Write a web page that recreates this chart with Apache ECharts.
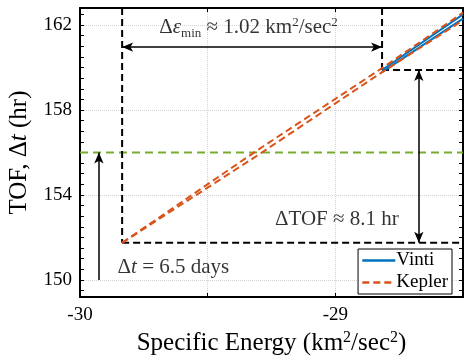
<!DOCTYPE html>
<html>
<head>
<meta charset="utf-8">
<script src="https://cdn.jsdelivr.net/npm/echarts@6/dist/echarts.min.js"></script>
<style>
html, body { margin: 0; padding: 0; background: #fff; }
#chart { width: 470px; height: 356px; }
</style>
</head>
<body>
<div id="chart"></div>
<script>
var chart = echarts.init(document.getElementById('chart'));

// values
var vintiA = [[-28.817, 159.88], [-28.5, 162.5]];
var vintiB = [[-28.817, 159.78], [-28.5, 162.3]];
var keplerA = [[-29.835, 151.75], [-29.3, 156.15], [-28.817, 159.97], [-28.5, 162.58]];
var keplerB = [[-29.835, 151.75], [-29.3, 155.9], [-28.817, 159.78], [-28.5, 162.22]];

var epsLow = -29.835, epsHigh = -28.817;   // delta eps min bounds
var tofLow = 151.75, tofHigh = 159.88;     // delta TOF bounds
var dtLevel = 156;                         // 6.5 days in hr
var epsArrowY = 160.96;
var tofArrowX = -28.673;
var dtArrowX = -29.926;
var dtArrowFrom = 150;

var xLabels = [-30, -29];
var yTicks = [149.5, 150, 150.5, 151, 151.5, 152, 152.5, 153, 153.5, 154, 154.5, 155, 155.5,
              156, 156.5, 157, 157.5, 158, 158.5, 159, 159.5, 160, 160.5, 161, 161.5, 162, 162.5];
var yLabels = [150, 154, 158, 162];

var xMin = -30, xMax = -28.5, yMin = 149.2, yMax = 162.8;

var textEps = [-29.34, 161.86];
var textTof = [-28.994, 152.86];
var textDt = [-29.634, 150.61];

var BLUE = '#0072BD', ORANGE = '#D95319', GREEN = '#77AC30';
var SERIF = 'Liberation Serif';

var dashBlack = {color: '#000', width: 2, type: [7, 4]};
var arrowStyle = {color: '#000', width: 1.5, type: 'solid'};

function seg(data, style) {
    return {
        type: 'line', data: data, symbol: 'none', silent: true,
        lineStyle: style, z: 4
    };
}

function makeRich(size, lh) {
    return {
        i: {fontFamily: SERIF, fontStyle: 'italic', fontSize: size, lineHeight: lh, color: '#000'},
        p: {fontFamily: SERIF, fontSize: Math.round(size * 0.62), verticalAlign: 'top', lineHeight: lh, color: '#000'},
        b: {fontFamily: SERIF, fontSize: Math.round(size * 0.62), verticalAlign: 'bottom', lineHeight: lh, color: '#000'}
    };
}

function textSeries(pos, text) {
    return {
        type: 'scatter', data: [pos], symbolSize: 1, silent: true, z: 6,
        itemStyle: {color: 'rgba(0,0,0,0)'},
        label: {
            show: true, position: 'inside', formatter: text,
            fontFamily: SERIF, fontSize: 21, lineHeight: 24, color: '#000',
            rich: makeRich(21, 24)
        }
    };
}

var axisLineStyle = {show: true, onZero: false, lineStyle: {color: '#000', width: 2}};
var tickStyle = {color: '#000', width: 1};

option = {
    animation: false,
    backgroundColor: '#fff',
    grid: {left: 80, right: 7, top: 8, bottom: 59, containLabel: false, outerBoundsMode: 'none'},
    legend: {
        orient: 'vertical', right: 18, top: 249,
        data: ['Vinti', 'Kepler'],
        backgroundColor: '#fff', borderColor: '#000', borderWidth: 1, borderRadius: 0,
        padding: [2, 4, 2, 3], itemGap: 3, itemWidth: 33, itemHeight: 12,
        itemStyle: {opacity: 0},
        lineStyle: {width: 2.5},
        textStyle: {fontFamily: SERIF, fontSize: 19, color: '#000', padding: [0, 0, 0, -4]}
    },
    xAxis: [{
        type: 'value', min: xMin, max: xMax, interval: 0.5, position: 'bottom',
        axisLine: axisLineStyle,
        axisTick: {inside: true, length: 4, lineStyle: tickStyle},
        axisLabel: {
            customValues: xLabels, showMinLabel: true, margin: 9,
            fontFamily: SERIF, fontSize: 19, color: '#000'
        },
        splitLine: {show: true, lineStyle: {color: '#d4d4d4', type: 'dotted', width: 1}},
        name: 'Specific Energy (km{p|2}/sec{p|2})',
        nameLocation: 'middle', nameGap: 31,
        nameTextStyle: {fontFamily: SERIF, fontSize: 25, lineHeight: 27, color: '#000', rich: makeRich(25, 27)}
    }, {
        type: 'value', min: xMin, max: xMax, interval: 0.5, position: 'top',
        axisLine: axisLineStyle,
        axisTick: {inside: true, length: 4, lineStyle: tickStyle},
        axisLabel: {show: false}, splitLine: {show: false}
    }],
    yAxis: [{
        type: 'value', min: yMin, max: yMax, position: 'left',
        axisLine: axisLineStyle,
        axisTick: {inside: true, length: 4, lineStyle: tickStyle, customValues: yTicks},
        axisLabel: {customValues: yLabels, margin: 8, fontFamily: SERIF, fontSize: 19, color: '#000'},
        splitLine: {show: false},
        name: 'TOF, Δ{i|t} (hr)', nameLocation: 'middle', nameGap: 36,
        nameTextStyle: {fontFamily: SERIF, fontSize: 25, lineHeight: 27, color: '#000', rich: makeRich(25, 27)}
    }, {
        type: 'value', min: yMin, max: yMax, position: 'right',
        axisLine: axisLineStyle,
        axisTick: {inside: true, length: 4, lineStyle: tickStyle, customValues: yTicks},
        axisLabel: {show: false}, splitLine: {show: false}
    }, {
        type: 'value', min: yMin, max: yMax, position: 'left',
        axisLine: {show: false},
        axisTick: {show: false, customValues: yLabels},
        axisLabel: {show: false, customValues: yLabels},
        splitLine: {show: true, lineStyle: {color: '#d4d4d4', type: 'dotted', width: 1}}
    }],
    series: [
        // green 6.5 day level
        seg([[xMin, dtLevel], [xMax, dtLevel]], {color: GREEN, width: 2, type: [8, 5]}),
        {name: 'Vinti', type: 'line', data: vintiA, symbol: 'none', z: 5,
         lineStyle: {color: BLUE, width: 2}, itemStyle: {color: BLUE}},
        {name: 'Vinti', type: 'line', data: vintiB, symbol: 'none', z: 5,
         lineStyle: {color: BLUE, width: 2}, itemStyle: {color: BLUE}},
        {name: 'Kepler', type: 'line', data: keplerA, symbol: 'none', z: 5,
         lineStyle: {color: ORANGE, width: 2, type: [7, 4]}, itemStyle: {color: ORANGE}},
        {name: 'Kepler', type: 'line', data: keplerB, symbol: 'none', z: 5,
         lineStyle: {color: ORANGE, width: 2, type: [7, 4]}, itemStyle: {color: ORANGE}},
        // dashed guide box
        seg([[epsLow, yMax], [epsLow, tofLow]], dashBlack),
        seg([[epsLow, tofLow], [xMax, tofLow]], dashBlack),
        seg([[epsHigh, yMax], [epsHigh, tofHigh]], dashBlack),
        seg([[epsHigh, tofHigh], [xMax, tofHigh]], dashBlack),
        // arrows
        {
            type: 'line', data: [], silent: true,
            markLine: {
                silent: true, animation: false,
                symbolSize: [7, 11],
                label: {show: false},
                lineStyle: arrowStyle,
                emphasis: {disabled: true},
                data: [
                    [{coord: [epsLow, epsArrowY], symbol: 'arrow'}, {coord: [epsHigh, epsArrowY], symbol: 'arrow'}],
                    [{coord: [tofArrowX, tofHigh], symbol: 'arrow'}, {coord: [tofArrowX, tofLow], symbol: 'arrow'}],
                    [{coord: [dtArrowX, dtArrowFrom], symbol: 'none'}, {coord: [dtArrowX, dtLevel], symbol: 'arrow'}]
                ]
            }
        },
        textSeries(textEps, 'Δ{i|ε}{b|min} ≈ 1.02 km{p|2}/sec{p|2}'),
        textSeries(textTof, 'ΔTOF ≈ 8.1 hr'),
        textSeries(textDt, 'Δ{i|t} = 6.5 days')
    ]
};
chart.setOption(option);
</script>
</body>
</html>
